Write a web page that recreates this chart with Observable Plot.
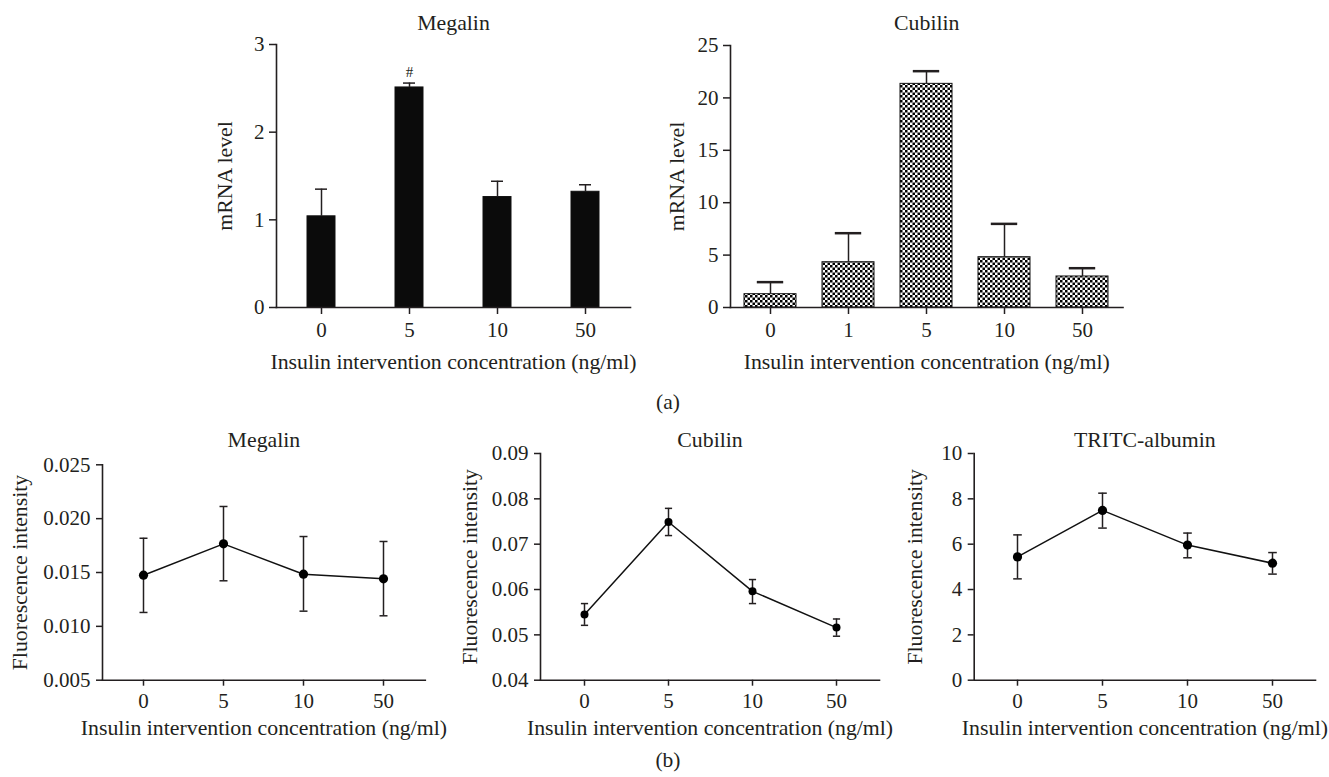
<!DOCTYPE html>
<html><head><meta charset="utf-8">
<script src="https://cdn.jsdelivr.net/npm/d3@7"></script>
<script src="https://cdn.jsdelivr.net/npm/@observablehq/plot@0.6"></script>
<style>
body{margin:0;background:#fff;}
#fig{position:relative;width:1329px;height:777px;font-family:"Liberation Serif",serif;color:#231f20;overflow:hidden;}
.lab{position:absolute;font-size:21.5px;transform:translate(-50%,-50%);white-space:nowrap;}
</style></head><body><div id="fig"></div>
<script>
// ---------- data ----------
const doses4 = ["0", "5", "10", "50"];
const doses5 = ["0", "1", "5", "10", "50"];

const megalinMRNA = [1.04, 2.51, 1.26, 1.32];
const megalinMRNAErr = [1.35, 2.56, 1.44, 1.40];

const cubilinMRNA = [1.27, 4.32, 21.34, 4.80, 2.96];
const cubilinMRNAErr = [2.42, 7.09, 22.55, 7.98, 3.75];

const megalinFluor = [0.01475, 0.01766, 0.01484, 0.01441];
const megalinFluorHi = [0.01818, 0.02113, 0.01834, 0.01788];
const megalinFluorLo = [0.01129, 0.01423, 0.01141, 0.01098];

const cubilinFluor = [0.0545, 0.0749, 0.0596, 0.0516];
const cubilinFluorHi = [0.0569, 0.0779, 0.0622, 0.0535];
const cubilinFluorLo = [0.0521, 0.0719, 0.0569, 0.0497];

const tritcFluor = [5.44, 7.49, 5.96, 5.16];
const tritcFluorHi = [6.41, 8.25, 6.49, 5.63];
const tritcFluorLo = [4.47, 6.71, 5.40, 4.68];

const ticksMegMRNA = [0, 1, 2, 3];
const ticksCubMRNA = [0, 5, 10, 15, 20, 25];
const ticksMegFl = [0.005, 0.010, 0.015, 0.020, 0.025];
const ticksCubFl = [0.04, 0.05, 0.06, 0.07, 0.08, 0.09];
const ticksTritc = [0, 2, 4, 6, 8, 10];

const xTitle = "Insulin intervention concentration (ng/ml)";
const ink = "#231f20";
const TICK_FS = "21px";
const LAB_FS = 21.8;
const C = {lineAnchor: "middle", textAnchor: "middle", fontSize: LAB_FS, fill: ink};

const fig = document.getElementById("fig");

function place(svg, left, top) {
  svg.style.position = "absolute";
  svg.style.left = left + "px";
  svg.style.top = top + "px";
  svg.style.maxWidth = "none";
  svg.style.overflow = "visible";
  fig.appendChild(svg);
}

// horizontal cap symbol for error bars on a point scale
function capSymbol(half) {
  return {draw(context) { context.moveTo(-half, 0); context.lineTo(half, 0); }};
}

function barPanel(o) {
  const data = o.doses.map((d, i) => ({dose: d, value: o.values[i], err: o.errs[i]}));
  const svg = Plot.plot({
    width: o.width, height: o.height,
    marginLeft: o.mL, marginRight: o.mR, marginTop: o.mT, marginBottom: o.mB,
    style: {fontFamily: "'Liberation Serif', serif", fontSize: TICK_FS, color: ink, background: "transparent"},
    x: {type: "band", domain: o.doses, paddingInner: o.pi, paddingOuter: o.pi / 2},
    y: {domain: o.yDomain},
    marks: [
      Plot.barY(data, {x: "dose", y: "value", fill: o.fill, stroke: "#111", strokeWidth: 1}),
      Plot.ruleX(data, {x: "dose", y1: "value", y2: "err", stroke: ink, strokeWidth: 1.5}),
      Plot.tickY(data, {x: "dose", y: "err", stroke: ink, strokeWidth: o.capW, insetLeft: o.capInset, insetRight: o.capInset}),
      Plot.frame({anchor: "left", stroke: ink, strokeWidth: 1.6}),
      Plot.frame({anchor: "bottom", stroke: ink, strokeWidth: 1.6}),
      Plot.axisY({ticks: o.yTicks, tickFormat: d3.format("d"), tickSize: 7, tickPadding: 5, label: null, strokeWidth: 1.5}),
      Plot.axisX({tickSize: 7, tickPadding: 8, label: null, strokeWidth: 1.5}),
      Plot.text([o.title], {...C, frameAnchor: "top", dy: o.titleDy}),
      Plot.text([xTitle], {...C, frameAnchor: "bottom", dy: 55}),
      Plot.text([o.yLabel], {...C, frameAnchor: "left", dx: o.yLabDx, rotate: -90}),
      ...(o.extra ? o.extra(data) : [])
    ]
  });
  if (o.defs) {
    const ns = "http://www.w3.org/2000/svg";
    const defs = document.createElementNS(ns, "defs");
    defs.innerHTML = o.defs;
    svg.insertBefore(defs, svg.firstChild);
  }
  place(svg, o.left, o.top);
}

function linePanel(o) {
  const data = doses4.map((d, i) => ({dose: d, value: o.values[i], hi: o.hi[i], lo: o.lo[i]}));
  const cap = capSymbol(o.cap);
  const svg = Plot.plot({
    width: o.width, height: o.height,
    marginLeft: o.mL, marginRight: o.mR, marginTop: o.mT, marginBottom: o.mB,
    style: {fontFamily: "'Liberation Serif', serif", fontSize: TICK_FS, color: ink, background: "transparent"},
    x: {type: "point", domain: doses4, padding: 0.5},
    y: {domain: o.yDomain},
    marks: [
      Plot.ruleX(data, {x: "dose", y1: "lo", y2: "hi", stroke: ink, strokeWidth: 1.5}),
      Plot.dot(data, {x: "dose", y: "hi", symbol: cap, stroke: ink, fill: "none", strokeWidth: 1.5}),
      Plot.dot(data, {x: "dose", y: "lo", symbol: cap, stroke: ink, fill: "none", strokeWidth: 1.5}),
      Plot.line(data, {x: "dose", y: "value", stroke: "#111", strokeWidth: 1.5}),
      Plot.dot(data, {x: "dose", y: "value", r: o.r, fill: "#000", stroke: "none"}),
      Plot.frame({anchor: "left", stroke: ink, strokeWidth: 1.6}),
      Plot.frame({anchor: "bottom", stroke: ink, strokeWidth: 1.6}),
      Plot.axisY({ticks: o.yTicks, tickFormat: o.fmt, tickSize: 6, tickPadding: 6, label: null, strokeWidth: 1.5}),
      Plot.axisX({tickSize: 6, tickPadding: 7, label: null, strokeWidth: 1.5}),
      Plot.text([o.title], {...C, frameAnchor: "top", dy: o.titleDy}),
      Plot.text([xTitle], {...C, frameAnchor: "bottom", dy: 48.3}),
      Plot.text(["Fluorescence intensity"], {...C, frameAnchor: "left", dx: o.yLabDx, rotate: -90})
    ]
  });
  place(svg, o.left, o.top);
}

// (a) Megalin mRNA
barPanel({
  left: 190, top: 0, width: 450, height: 380, mL: 86, mR: 10, mT: 44, mB: 73,
  doses: doses4, values: megalinMRNA, errs: megalinMRNAErr,
  yDomain: [0, 3], yTicks: ticksMegMRNA, pi: 0.68, capInset: 8, capW: 1.5,
  fill: "#0b0b0b", title: "Megalin", titleDy: -21, yLabel: "mRNA level", yLabDx: -51,
  extra: (data) => [Plot.text(data.filter(d => d.dose === "5"), {x: "dose", y: "err", text: () => "#", dy: -11, fontSize: 15, fill: ink})]
});

// (a) Cubilin mRNA
barPanel({
  left: 640, top: 0, width: 490, height: 380, mL: 90, mR: 7.5, mT: 45, mB: 73,
  doses: doses5, values: cubilinMRNA, errs: cubilinMRNAErr,
  yDomain: [0, 25], yTicks: ticksCubMRNA, pi: 0.33, capInset: 12.8, capW: 2.5,
  fill: "url(#checker)", title: "Cubilin", titleDy: -22.3, yLabel: "mRNA level", yLabDx: -53,
  defs: '<pattern id="checker" patternUnits="userSpaceOnUse" width="5" height="5"><rect width="5" height="5" fill="#fff"/><rect width="2.5" height="2.5" fill="#000"/><rect x="2.5" y="2.5" width="2.5" height="2.5" fill="#000"/></pattern>'
});

// (b) Megalin fluorescence
linePanel({
  left: 0, top: 380, width: 435, height: 397, mL: 102, mR: 10.2, mT: 84.3, mB: 97.3,
  values: megalinFluor, hi: megalinFluorHi, lo: megalinFluorLo,
  yDomain: [0.005, 0.025], yTicks: ticksMegFl, fmt: d3.format(".3f"),
  title: "Megalin", titleDy: -24.3, yLabDx: -82, r: 4.6, cap: 4
});

// (b) Cubilin fluorescence
linePanel({
  left: 440, top: 380, width: 445, height: 397, mL: 100, mR: 6, mT: 73, mB: 97.3,
  values: cubilinFluor, hi: cubilinFluorHi, lo: cubilinFluorLo,
  yDomain: [0.04, 0.09], yTicks: ticksCubFl, fmt: d3.format(".2f"),
  title: "Cubilin", titleDy: -13, yLabDx: -70, r: 4, cap: 3.6
});

// (b) TRITC-albumin
linePanel({
  left: 885, top: 380, width: 444, height: 397, mL: 88.7, mR: 14, mT: 73, mB: 97.3,
  values: tritcFluor, hi: tritcFluorHi, lo: tritcFluorLo,
  yDomain: [0, 10], yTicks: ticksTritc, fmt: d3.format("d"),
  title: "TRITC-albumin", titleDy: -13, yLabDx: -58.7, r: 4.6, cap: 4.3
});

// panel letters
for (const [t, x, y] of [["(a)", 668, 402], ["(b)", 668, 760]]) {
  const d = document.createElement("div");
  d.className = "lab";
  d.style.left = x + "px";
  d.style.top = y + "px";
  d.textContent = t;
  fig.appendChild(d);
}
</script></body></html>
